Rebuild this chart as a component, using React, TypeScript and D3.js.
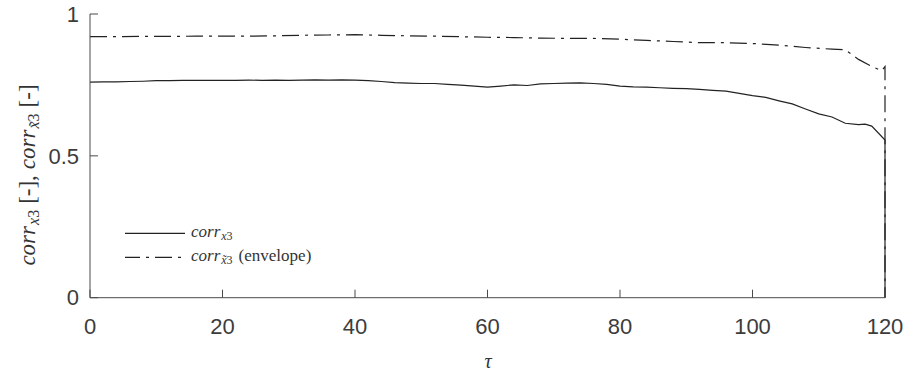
import React from "react";
import * as d3 from "d3";

const tauCorr = [0,2,4,6,8,10,12,14,16,18,20,22,24,26,28,30,32,34,36,38,40,42,44,46,48,50,52,54,56,58,60,62,64,66,68,70,72,74,76,78,80,82,84,86,88,90,92,94,96,98,100,102,104,106,108,110,112,114,116,117,118,120,120];
const corrValues = [0.760,0.761,0.761,0.762,0.763,0.765,0.765,0.766,0.766,0.766,0.766,0.766,0.767,0.766,0.767,0.766,0.767,0.768,0.767,0.768,0.767,0.765,0.762,0.758,0.756,0.755,0.755,0.752,0.749,0.746,0.742,0.746,0.750,0.748,0.754,0.755,0.756,0.757,0.755,0.752,0.746,0.743,0.742,0.740,0.738,0.737,0.734,0.731,0.728,0.720,0.712,0.706,0.694,0.683,0.665,0.648,0.637,0.615,0.610,0.612,0.605,0.556,0];

const tauEnv = [0,4,8,12,16,20,24,28,32,36,40,44,48,52,56,60,64,68,72,76,80,84,88,92,96,100,104,108,112,114,116,118,119.5,120,120];
const envValues = [0.920,0.920,0.921,0.921,0.922,0.922,0.922,0.923,0.925,0.926,0.927,0.925,0.923,0.922,0.920,0.918,0.917,0.915,0.914,0.914,0.911,0.907,0.903,0.899,0.899,0.896,0.890,0.882,0.876,0.874,0.840,0.815,0.800,0.815,0];

const xTicks = [0,20,40,60,80,100,120];
const yTicks = [0,0.5,1];
const yTickLabels = ["0","0.5","1"];

const W = 906, H = 373;
const ML = 90, MR = 885, MT = 14, MB = 297.7;
const AX = "#4a4a4a";
const LINE = "#222";
const SERIF = "'Liberation Serif', 'Times New Roman', serif";
const SANS = "'Liberation Sans', Arial, Helvetica, sans-serif";
const DASHDOT = "17,6,3,6";

export default function App() {
  const x = d3.scaleLinear().domain([0, 120]).range([ML, MR]);
  const y = d3.scaleLinear().domain([0, 1]).range([MB, MT]);
  const line = d3.line<[number, number]>().x(d => x(d[0])).y(d => y(d[1]));
  const corrPts = tauCorr.map((t, i) => [t, corrValues[i]] as [number, number]);
  const envPts = tauEnv.map((t, i) => [t, envValues[i]] as [number, number]);

  return (
    <svg width={W} height={H} style={{ position: "absolute", left: 0, top: 0, background: "#fff" }}>
      <path d={line(corrPts) || ""} fill="none" stroke={LINE} strokeWidth={1.2} />
      <path d={line(envPts) || ""} fill="none" stroke={LINE} strokeWidth={1.2} strokeDasharray={DASHDOT} />
      {/* axes */}
      <line x1={ML} x2={ML} y1={MT} y2={MB} stroke={AX} strokeWidth={1} />
      <line x1={ML} x2={MR} y1={MB} y2={MB} stroke={AX} strokeWidth={1} />
      {xTicks.map(t => (
        <g key={"x" + t}>
          <line x1={x(t)} x2={x(t)} y1={MB} y2={MB - 8} stroke={AX} strokeWidth={1} />
          <text x={x(t)} y={334} textAnchor="middle" fontFamily={SANS} fontSize={22} fill="#3c3c3c">{t}</text>
        </g>
      ))}
      {yTicks.map((t, i) => (
        <g key={"y" + t}>
          <line x1={ML} x2={ML + 8} y1={y(t)} y2={y(t)} stroke={AX} strokeWidth={1} />
          <text x={79} y={y(t)} dy="0.35em" textAnchor="end" fontFamily={SANS} fontSize={22} fill="#3c3c3c">{yTickLabels[i]}</text>
        </g>
      ))}
      {/* x label */}
      <text x={488} y={368} textAnchor="middle" fontFamily={SERIF} fontStyle="italic" fontSize={20} fill="#333">τ</text>
      {/* y label */}
      <text transform="translate(35,175) rotate(-90)" textAnchor="middle" fontFamily={SERIF} fontSize={23} fill="#333">
        <tspan fontStyle="italic">corr</tspan>
        <tspan fontStyle="italic" fontSize={16} dy={4} dx={1}>x</tspan>
        <tspan fontSize={16}>3</tspan>
        <tspan dy={-4} dx={6}>[-],</tspan>
        <tspan dx={6} fontStyle="italic">corr</tspan>
        <tspan fontStyle="italic" fontSize={16} dy={4} dx={1}>{"x\u0303"}</tspan>
        <tspan fontSize={16}>3</tspan>
        <tspan dy={-4} dx={6}>[-]</tspan>
      </text>
      {/* legend */}
      <line x1={125} x2={185} y1={233.3} y2={233.3} stroke={LINE} strokeWidth={1.2} />
      <text x={191} y={237} fontFamily={SERIF} fontSize={17} fill="#333">
        <tspan fontStyle="italic">corr</tspan>
        <tspan fontStyle="italic" fontSize={12} dy={3} dx={1}>x</tspan>
        <tspan fontSize={12}>3</tspan>
      </text>
      <line x1={125} x2={185} y1={257.3} y2={257.3} stroke={LINE} strokeWidth={1.2} strokeDasharray={DASHDOT} strokeDashoffset={2} />
      <text x={191} y={261} fontFamily={SERIF} fontSize={17} fill="#333">
        <tspan fontStyle="italic">corr</tspan>
        <tspan fontStyle="italic" fontSize={12} dy={3} dx={1}>{"x\u0303"}</tspan>
        <tspan fontSize={12}>3</tspan>
        <tspan dy={-3} dx={6}>(envelope)</tspan>
      </text>
    </svg>
  );
}
